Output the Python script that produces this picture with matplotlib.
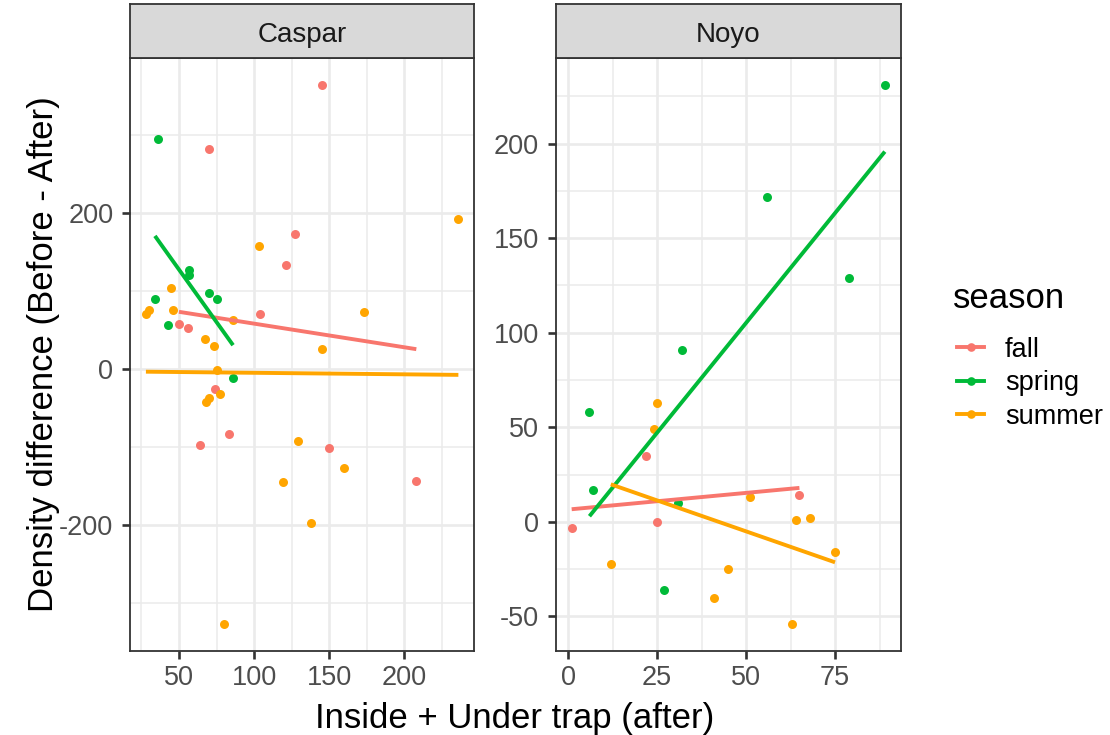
import numpy as np
import matplotlib.pyplot as plt
from matplotlib.lines import Line2D

plt.rcParams['font.family'] = ['Liberation Sans', 'DejaVu Sans']
plt.rcParams['axes.unicode_minus'] = False

# Datos por sitio y estación
caspar_fall_x = [145, 70, 127, 121, 104, 50, 56, 74, 83, 64, 150, 208]
caspar_fall_y = [364, 282, 173, 133, 70, 58, 52, -26, -83, -97, -101, -144]
caspar_spring_x = [36, 57, 57, 70, 75, 34, 43, 86]
caspar_spring_y = [295, 127, 120, 97, 90, 90, 56, -12]
caspar_summer_x = [236, 103, 45, 46, 30, 28, 86, 173, 67, 73, 145, 75, 77, 70,
                   68, 129, 160, 119, 138, 80]
caspar_summer_y = [192, 158, 104, 76, 75, 70, 63, 73, 39, 30, 26, -2, -32, -37,
                   -43, -93, -127, -145, -198, -327]

noyo_fall_x = [1, 22, 25, 65]
noyo_fall_y = [-3, 35, 0, 14]
noyo_spring_x = [89, 56, 79, 32, 6, 7, 31, 27]
noyo_spring_y = [231, 172, 129, 91, 58, 17, 10, -36]
noyo_summer_x = [25, 24, 51, 64, 68, 75, 12, 45, 41, 63]
noyo_summer_y = [63, 49, 13, 1, 2, -16, -22, -25, -40, -54]

seasons = ['fall', 'spring', 'summer']
sites = ['Caspar', 'Noyo']
data = {
    'Caspar': [(caspar_fall_x, caspar_fall_y), (caspar_spring_x, caspar_spring_y),
               (caspar_summer_x, caspar_summer_y)],
    'Noyo': [(noyo_fall_x, noyo_fall_y), (noyo_spring_x, noyo_spring_y),
             (noyo_summer_x, noyo_summer_y)],
}
x_breaks = {'Caspar': [50, 100, 150, 200], 'Noyo': [0, 25, 50, 75]}
y_breaks = {'Caspar': [-200, 0, 200], 'Noyo': [-50, 0, 50, 100, 150, 200]}

# Colores
colors = ['#F8766D', '#00BA38', '#FFA500']
grid_clr = '#EBEBEB'
dark = '#333333'
W, H = 1110, 735

fig = plt.figure(figsize=(W / 100, H / 100), dpi=100)
fig.patch.set_facecolor('white')

panels = {'Caspar': (130.3, 474.0), 'Noyo': (556.0, 900.5)}
top, bottom, strip_top = 58, 651, 4


def expand(vals, f=0.05):
    lo, hi = min(vals), max(vals)
    d = (hi - lo) * f
    return lo - d, hi + d


def minors(br):
    step = br[1] - br[0]
    return np.arange(br[0] - step / 2, br[-1] + step, step)


for site in sites:
    x0, x1 = panels[site]
    ax = fig.add_axes([x0 / W, (H - bottom) / H, (x1 - x0) / W, (bottom - top) / H])
    allx = sum([list(s[0]) for s in data[site]], [])
    ally = sum([list(s[1]) for s in data[site]], [])
    xl, yl = expand(allx), expand(ally)

    for (xs, ys), c in zip(data[site], colors):
        ax.scatter(xs, ys, s=42, color=c, linewidths=0, zorder=3)
    # Ajuste lineal por estación
    for (xs, ys), c in zip(data[site], colors):
        k, b = np.polyfit(xs, ys, 1)
        xx = np.array([min(xs), max(xs)])
        ax.plot(xx, k * xx + b, color=c, lw=2.8, solid_capstyle='butt', zorder=4)

    ax.set_xlim(xl); ax.set_ylim(yl)
    ax.set_xticks(x_breaks[site]); ax.set_yticks(y_breaks[site])
    ax.set_xticks([v for v in minors(x_breaks[site]) if xl[0] < v < xl[1]], minor=True)
    ax.set_yticks([v for v in minors(y_breaks[site]) if yl[0] < v < yl[1]], minor=True)
    ax.grid(which='major', color=grid_clr, lw=1.9, zorder=0)
    ax.grid(which='minor', color=grid_clr, lw=1.1, zorder=0)
    ax.set_axisbelow(True)
    ax.tick_params(which='major', length=6.1, width=1.9, color=dark,
                   labelsize=19.5, labelcolor='#4D4D4D')
    ax.tick_params(axis='x', pad=4)
    ax.tick_params(axis='y', pad=6)
    ax.tick_params(which='minor', length=0)
    for sp in ax.spines.values():
        sp.set_color(dark); sp.set_linewidth(1.3)

    # Encabezado del panel
    st = fig.add_axes([x0 / W, (H - top) / H, (x1 - x0) / W, (top - strip_top) / H])
    st.set_facecolor('#D9D9D9')
    st.set_xticks([]); st.set_yticks([])
    for sp in st.spines.values():
        sp.set_color(dark); sp.set_linewidth(1.3)
    st.text(0.5, 0.29, site, ha='center', va='baseline', fontsize=20,
            color='#1A1A1A', transform=st.transAxes)

fig.text(515 / W, (H - 728) / H, 'Inside + Under trap (after)', ha='center',
         va='baseline', fontsize=25)
fig.text(53 / W, (H - 354.5) / H, 'Density difference (Before - After)',
         rotation=90, rotation_mode='anchor', ha='center', va='baseline', fontsize=25)

# Leyenda
fig.text(953 / W, (H - 308) / H, 'season', ha='left', va='baseline', fontsize=25)
for i, (name, c) in enumerate(zip(seasons, colors)):
    yk = 347 + i * 33.7
    fig.add_artist(Line2D([957 / W, 984 / W], [(H - yk) / H] * 2, color=c, lw=2.8,
                          transform=fig.transFigure))
    fig.add_artist(Line2D([970.5 / W], [(H - yk) / H], marker='o', ms=6.2, color=c,
                          mew=0, transform=fig.transFigure))
    fig.text(1005 / W, (H - yk - 9.7) / H, name, ha='left', va='baseline', fontsize=19.5)

plt.savefig('out.png', dpi=100)
